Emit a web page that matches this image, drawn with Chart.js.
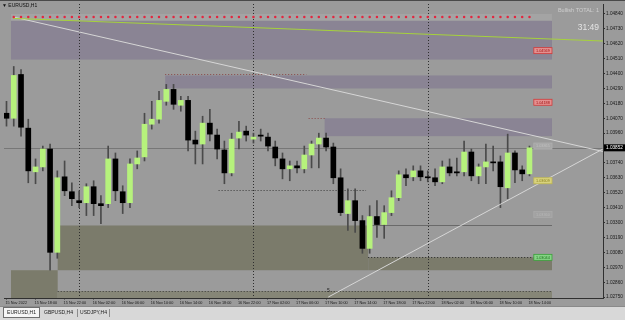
<!DOCTYPE html>
<html>
<head>
<meta charset="utf-8">
<script src="https://cdn.jsdelivr.net/npm/chart.js@4"></script>
<style>
  html, body { margin: 0; padding: 0; background: #9b9b9b; }
  canvas { display: block; }
</style>
</head>
<body>
<canvas id="chart" width="625" height="320"></canvas>
<script>
// EURUSD H1, 15 Nov 14:00 .. 18 Nov 14:00 (one entry per hour)
const timeTicks = [0, 4, 8, 12, 16, 20, 24, 28, 32, 36, 40, 44, 48, 52, 56, 60, 64, 68, 72];
const timeLabels = ['15 Nov 2022', '15 Nov 18:00', '15 Nov 22:00', '16 Nov 02:00', '16 Nov 06:00',
  '16 Nov 10:00', '16 Nov 14:00', '16 Nov 18:00', '16 Nov 22:00', '17 Nov 02:00', '17 Nov 06:00',
  '17 Nov 10:00', '17 Nov 14:00', '17 Nov 18:00', '17 Nov 22:00', '18 Nov 02:00', '18 Nov 06:00',
  '18 Nov 10:00', '18 Nov 14:00'];
const priceTicks = [1.04840, 1.04730, 1.04620, 1.04510, 1.04400, 1.04290, 1.04180, 1.04070, 1.03960,
  1.03850, 1.03740, 1.03630, 1.03520, 1.03410, 1.03300, 1.03190, 1.03080, 1.02970, 1.02860, 1.02750];

const opens = [
  1.04107, 1.04070, 1.04393, 1.03997, 1.03675, 1.03711, 1.03843, 1.03081, 1.03638, 1.03528,
  1.03462, 1.03447, 1.03565, 1.03440, 1.03440, 1.03770, 1.03528, 1.03447, 1.03733, 1.03785,
  1.04026, 1.04063, 1.04195, 1.04283, 1.04166, 1.04202, 1.03909, 1.03880, 1.04034, 1.03946,
  1.03836, 1.03667, 1.03924, 1.03975, 1.03916, 1.03946, 1.03931, 1.03858, 1.03770, 1.03697,
  1.03719, 1.03697, 1.03799, 1.03880, 1.03924, 1.03858, 1.03631, 1.03367, 1.03462, 1.03315,
  1.03110, 1.03345, 1.03286, 1.03374, 1.03484, 1.03653, 1.03638, 1.03682, 1.03638, 1.03631,
  1.03601, 1.03711, 1.03675, 1.03675, 1.03821, 1.03645, 1.03711, 1.03748, 1.03748, 1.03557,
  1.03814, 1.03689, 1.03660];
const highs = [
  1.04195, 1.04452, 1.04430, 1.04063, 1.03770, 1.03865, 1.03880, 1.03682, 1.03755, 1.03594,
  1.03535, 1.03587, 1.03609, 1.03499, 1.03865, 1.03814, 1.03572, 1.03770, 1.03829, 1.04107,
  1.04195, 1.04268, 1.04320, 1.04320, 1.04232, 1.04232, 1.03975, 1.04085, 1.04136, 1.03990,
  1.03902, 1.03960, 1.04048, 1.04012, 1.03960, 1.03990, 1.03960, 1.03902, 1.03814, 1.03755,
  1.03755, 1.03865, 1.03902, 1.03960, 1.03960, 1.03887, 1.03697, 1.03550, 1.03550, 1.03352,
  1.03425, 1.03462, 1.03425, 1.03535, 1.03682, 1.03697, 1.03719, 1.03719, 1.03682, 1.03697,
  1.03755, 1.03770, 1.03777, 1.03902, 1.03843, 1.03733, 1.03880, 1.03865, 1.03792, 1.03953,
  1.03829, 1.03719, 1.03865];
const lows = [
  1.04012, 1.04012, 1.03938, 1.03594, 1.03587, 1.03682, 1.02949, 1.03037, 1.03499, 1.03425,
  1.03411, 1.03352, 1.03352, 1.03293, 1.03411, 1.03462, 1.03367, 1.03411, 1.03697, 1.03755,
  1.03990, 1.04034, 1.04166, 1.04136, 1.04122, 1.03829, 1.03733, 1.03733, 1.03902, 1.03770,
  1.03587, 1.03645, 1.03843, 1.03902, 1.03887, 1.03902, 1.03829, 1.03719, 1.03623, 1.03609,
  1.03667, 1.03667, 1.03704, 1.03704, 1.03829, 1.03587, 1.03352, 1.03242, 1.03227, 1.03074,
  1.03074, 1.03191, 1.03184, 1.03352, 1.03462, 1.03572, 1.03609, 1.03609, 1.03601, 1.03572,
  1.03587, 1.03645, 1.03645, 1.03645, 1.03609, 1.03587, 1.03587, 1.03682, 1.03411, 1.03477,
  1.03594, 1.03609, 1.03645];
const closes = [
  1.04070, 1.04386, 1.04004, 1.03682, 1.03711, 1.03843, 1.03081, 1.03631, 1.03535, 1.03477,
  1.03447, 1.03565, 1.03440, 1.03425, 1.03770, 1.03535, 1.03447, 1.03733, 1.03777, 1.04026,
  1.04063, 1.04202, 1.04283, 1.04173, 1.04202, 1.03909, 1.03880, 1.04034, 1.03953, 1.03843,
  1.03667, 1.03916, 1.03968, 1.03946, 1.03931, 1.03938, 1.03865, 1.03777, 1.03697, 1.03719,
  1.03704, 1.03799, 1.03880, 1.03924, 1.03858, 1.03631, 1.03374, 1.03462, 1.03315, 1.03110,
  1.03345, 1.03286, 1.03374, 1.03484, 1.03653, 1.03631, 1.03682, 1.03638, 1.03631, 1.03601,
  1.03711, 1.03667, 1.03667, 1.03821, 1.03645, 1.03711, 1.03748, 1.03741, 1.03565, 1.03814,
  1.03689, 1.03660, 1.03852];
const lastPrice = 1.03852;

// indicator objects (bar index, price)
const dotLevel = 1.04818;
const trendUpper = [[0.9, 1.04807], [82.1, 1.04640]];
const trendFall = [[0.9, 1.04818], [82.1, 1.03825]];
const trendRise = [[44.3, 1.02751], [82.1, 1.03843]];
const zoneFrom = [0.62, 0.62, 21.85, 43.8, 7.05, 49.8, 0.62, 7.05];
const zoneTo = [75.1, 75.1, 75.1, 75.1, 49.8, 75.1, 7.05, 75.1];
const zoneHigh = [1.04840, 1.04789, 1.04386, 1.04070, 1.03279, 1.03044, 1.02949, 1.02795];
const zoneLow = [1.04789, 1.04503, 1.04290, 1.03938, 1.02949, 1.02949, 1.02744, 1.02744];
const levelPrice = [1.04393, 1.04070, 1.03543, 1.03044, 1.02795];
const levelFrom = [21.85, 41.6, 29.2, 49.8, 7.05];
const levelTo = [41.3, 43.8, 49.5, 72.3, 75.1];
const edgePrice = 1.03286, edgeFrom = 49.8, edgeTo = 75.1;
const daySeparators = [10, 34, 58];
const tagPrices = [1.04569, 1.04188, 1.03865, 1.03609, 1.03360, 1.03044];

// styling
const FONT = "'Liberation Sans', Arial, sans-serif";
const zoneColors = ['#a4a4a4', '#8a8494', '#8a8494', '#8a8494', '#7b7b6b', '#7b7b6b', '#7b7b6b', '#868677'];
const levelColors = ['#8a4848', '#8a4848', '#3a3a3a', '#2a2a2a', '#3a3a3a'];
const tagStyles = [
  {bg: '#e49090', border: '#d03a3a', text: '#a01010'},
  {bg: '#e49090', border: '#d03a3a', text: '#a01010'},
  {bg: '#a6a6a6', border: '#b0b0b0', text: '#c0c0c0'},
  {bg: '#d8d27e', border: '#c0b850', text: '#8a8020'},
  {bg: '#a2a2a2', border: '#aaaaaa', text: '#b8b8b8'},
  {bg: '#86d486', border: '#3aa03a', text: '#1a701a'}
];

const idx = opens.map((_, i) => i);
const toPts = arr => arr.map(p => ({x: p[0], y: p[1]}));

const overlay = {
  id: 'overlay',
  beforeDatasetsDraw(chart) {
    const {ctx, chartArea: a, scales: {x, y}} = chart;
    ctx.save();
    ctx.beginPath();
    ctx.rect(a.left, a.top, a.right - a.left, a.bottom - a.top);
    ctx.clip();
    zoneFrom.forEach((f, k) => {
      const x0 = x.getPixelForValue(f), x1 = x.getPixelForValue(zoneTo[k]);
      const y0 = y.getPixelForValue(zoneHigh[k]), y1 = y.getPixelForValue(zoneLow[k]);
      ctx.fillStyle = zoneColors[k];
      ctx.fillRect(x0, y0, x1 - x0, y1 - y0);
    });
    // current price line
    ctx.strokeStyle = '#777777';
    ctx.lineWidth = 1;
    let yy = Math.round(y.getPixelForValue(lastPrice)) + 0.5;
    ctx.beginPath(); ctx.moveTo(a.left, yy); ctx.lineTo(a.right, yy); ctx.stroke();
    // zone edge line
    ctx.strokeStyle = '#6a6a6a';
    yy = Math.round(y.getPixelForValue(edgePrice)) + 0.5;
    ctx.beginPath(); ctx.moveTo(x.getPixelForValue(edgeFrom), yy); ctx.lineTo(x.getPixelForValue(edgeTo), yy); ctx.stroke();
    // dotted levels
    ctx.setLineDash([1, 2]);
    levelPrice.forEach((p, k) => {
      ctx.strokeStyle = levelColors[k];
      const ly = Math.round(y.getPixelForValue(p)) + 0.5;
      ctx.beginPath();
      ctx.moveTo(x.getPixelForValue(levelFrom[k]), ly);
      ctx.lineTo(x.getPixelForValue(levelTo[k]), ly);
      ctx.stroke();
    });
    // day separators
    ctx.strokeStyle = '#2e2e2e';
    daySeparators.forEach(d => {
      const sx = Math.round(x.getPixelForValue(d)) + 0.5;
      ctx.beginPath(); ctx.moveTo(sx, a.top); ctx.lineTo(sx, a.bottom); ctx.stroke();
    });
    ctx.restore();
  },
  afterDraw(chart) {
    const {ctx, chartArea: a, scales: {x, y}} = chart;
    ctx.save();
    // price tags
    ctx.font = '3.8px ' + FONT;
    ctx.textAlign = 'center';
    ctx.textBaseline = 'middle';
    tagPrices.forEach((p, k) => {
      const st = tagStyles[k];
      const x0 = x.getPixelForValue(72.6), x1 = x.getPixelForValue(75.1);
      const ty = y.getPixelForValue(p);
      ctx.fillStyle = st.bg;
      ctx.fillRect(x0, ty - 3, x1 - x0, 6);
      ctx.strokeStyle = st.border;
      ctx.lineWidth = 0.8;
      ctx.strokeRect(x0, ty - 3, x1 - x0, 6);
      ctx.fillStyle = st.text;
      ctx.fillText(p.toFixed(5), (x0 + x1) / 2, ty + 0.3);
    });
    // marker near the rising line start
    ctx.fillStyle = '#222222';
    ctx.font = '5px ' + FONT;
    ctx.fillText('5', x.getPixelForValue(44.3), y.getPixelForValue(1.02800));
    // title
    ctx.textAlign = 'left';
    ctx.fillStyle = '#101010';
    ctx.font = '5px ' + FONT;
    ctx.fillText('\u25BC EURUSD,H1', 2, 6);
    // top-right panel text
    ctx.textAlign = 'right';
    ctx.fillStyle = '#cfcfcf';
    ctx.font = '5.5px ' + FONT;
    ctx.fillText('Bullish TOTAL: 1', 599, 10);
    ctx.fillStyle = '#e4e4e4';
    ctx.font = '8.5px ' + FONT;
    ctx.fillText('31:49', 599, 28);
    // current price box on the axis
    const cy = y.getPixelForValue(lastPrice);
    ctx.fillStyle = '#000000';
    ctx.fillRect(a.right + 1, cy - 3.5, 21, 7);
    ctx.fillStyle = '#ffffff';
    ctx.textAlign = 'left';
    ctx.font = '4.7px ' + FONT;
    ctx.fillText(lastPrice.toFixed(5), a.right + 3, cy + 0.3);
    // top frame line
    ctx.fillStyle = '#4a4a4a';
    ctx.fillRect(0, 0, 625, 1);
    // tab bar
    ctx.fillStyle = '#d8d8d8';
    ctx.fillRect(0, 306, 625, 14);
    ctx.fillStyle = '#8a8a8a';
    ctx.fillRect(0, 306, 625, 1);
    ctx.fillStyle = '#f6f6f6';
    ctx.fillRect(3, 307, 37, 11);
    ctx.strokeStyle = '#6e6e6e';
    ctx.lineWidth = 1;
    ctx.strokeRect(3.5, 307.5, 36, 10);
    ctx.fillStyle = '#8c8c8c';
    ctx.fillRect(77, 309, 1, 8);
    ctx.fillRect(109, 309, 1, 8);
    ctx.fillStyle = '#1a1a1a';
    ctx.font = '5px ' + FONT;
    ctx.textAlign = 'center';
    ctx.fillText('EURUSD,H1', 21.5, 313);
    ctx.fillText('GBPUSD,H4', 58.5, 313);
    ctx.fillText('USDJPY,H4', 93.5, 313);
    ctx.restore();
  }
};

new Chart(document.getElementById('chart'), {
  type: 'bar',
  data: {
    datasets: [
      {
        type: 'line', data: idx.slice(1).map(i => ({x: i, y: dotLevel})), showLine: false,
        pointRadius: 1.25, pointBackgroundColor: '#e3263f', pointBorderWidth: 0, order: 0
      },
      {type: 'line', data: toPts(trendUpper), borderColor: '#a6d23c', borderWidth: 1, pointRadius: 0, order: 0},
      {type: 'line', data: toPts(trendFall), borderColor: '#d6d6d6', borderWidth: 1, pointRadius: 0, order: 0},
      {type: 'line', data: toPts(trendRise), borderColor: '#d6d6d6', borderWidth: 1, pointRadius: 0, order: 0},
      {
        data: idx.map(i => ({x: i, y: [opens[i], closes[i]]})),
        backgroundColor: idx.map(i => closes[i] >= opens[i] ? '#b6f27c' : '#000000'),
        barThickness: 5, minBarLength: 1, grouped: false, order: 1
      },
      {
        data: idx.map(i => ({x: i, y: [lows[i], highs[i]]})),
        backgroundColor: '#4a4a4a', barThickness: 1, grouped: false, order: 2
      }
    ]
  },
  options: {
    responsive: false,
    animation: false,
    devicePixelRatio: 1,
    layout: {padding: {top: 2, left: 1, right: 0, bottom: 14}},
    plugins: {legend: {display: false}, tooltip: {enabled: false}},
    scales: {
      x: {
        type: 'linear', min: -0.3425, max: 82.123, offset: false,
        afterBuildTicks: s => { s.ticks = timeTicks.map(v => ({value: v})); },
        afterFit: s => { s.height = 8; },
        ticks: {
          autoSkip: false, maxRotation: 0, align: 'start', padding: 1, labelOffset: -1,
          color: '#1a1a1a', font: {size: 3.8, family: FONT},
          callback: v => timeLabels[timeTicks.indexOf(v)]
        },
        grid: {drawOnChartArea: false, offset: false, tickLength: 1.5, color: '#303030'},
        border: {color: '#303030'}
      },
      y: {
        position: 'right', min: 1.02744, max: 1.04913,
        afterBuildTicks: s => { s.ticks = priceTicks.map(v => ({value: v})); },
        afterFit: s => { s.width = 22; },
        ticks: {color: '#1a1a1a', padding: 1, font: {size: 4.7, family: FONT}, callback: v => v.toFixed(5)},
        grid: {drawOnChartArea: false, tickLength: 2, color: '#303030'},
        border: {color: '#303030'}
      }
    }
  },
  plugins: [overlay]
});
</script>
</body>
</html>
